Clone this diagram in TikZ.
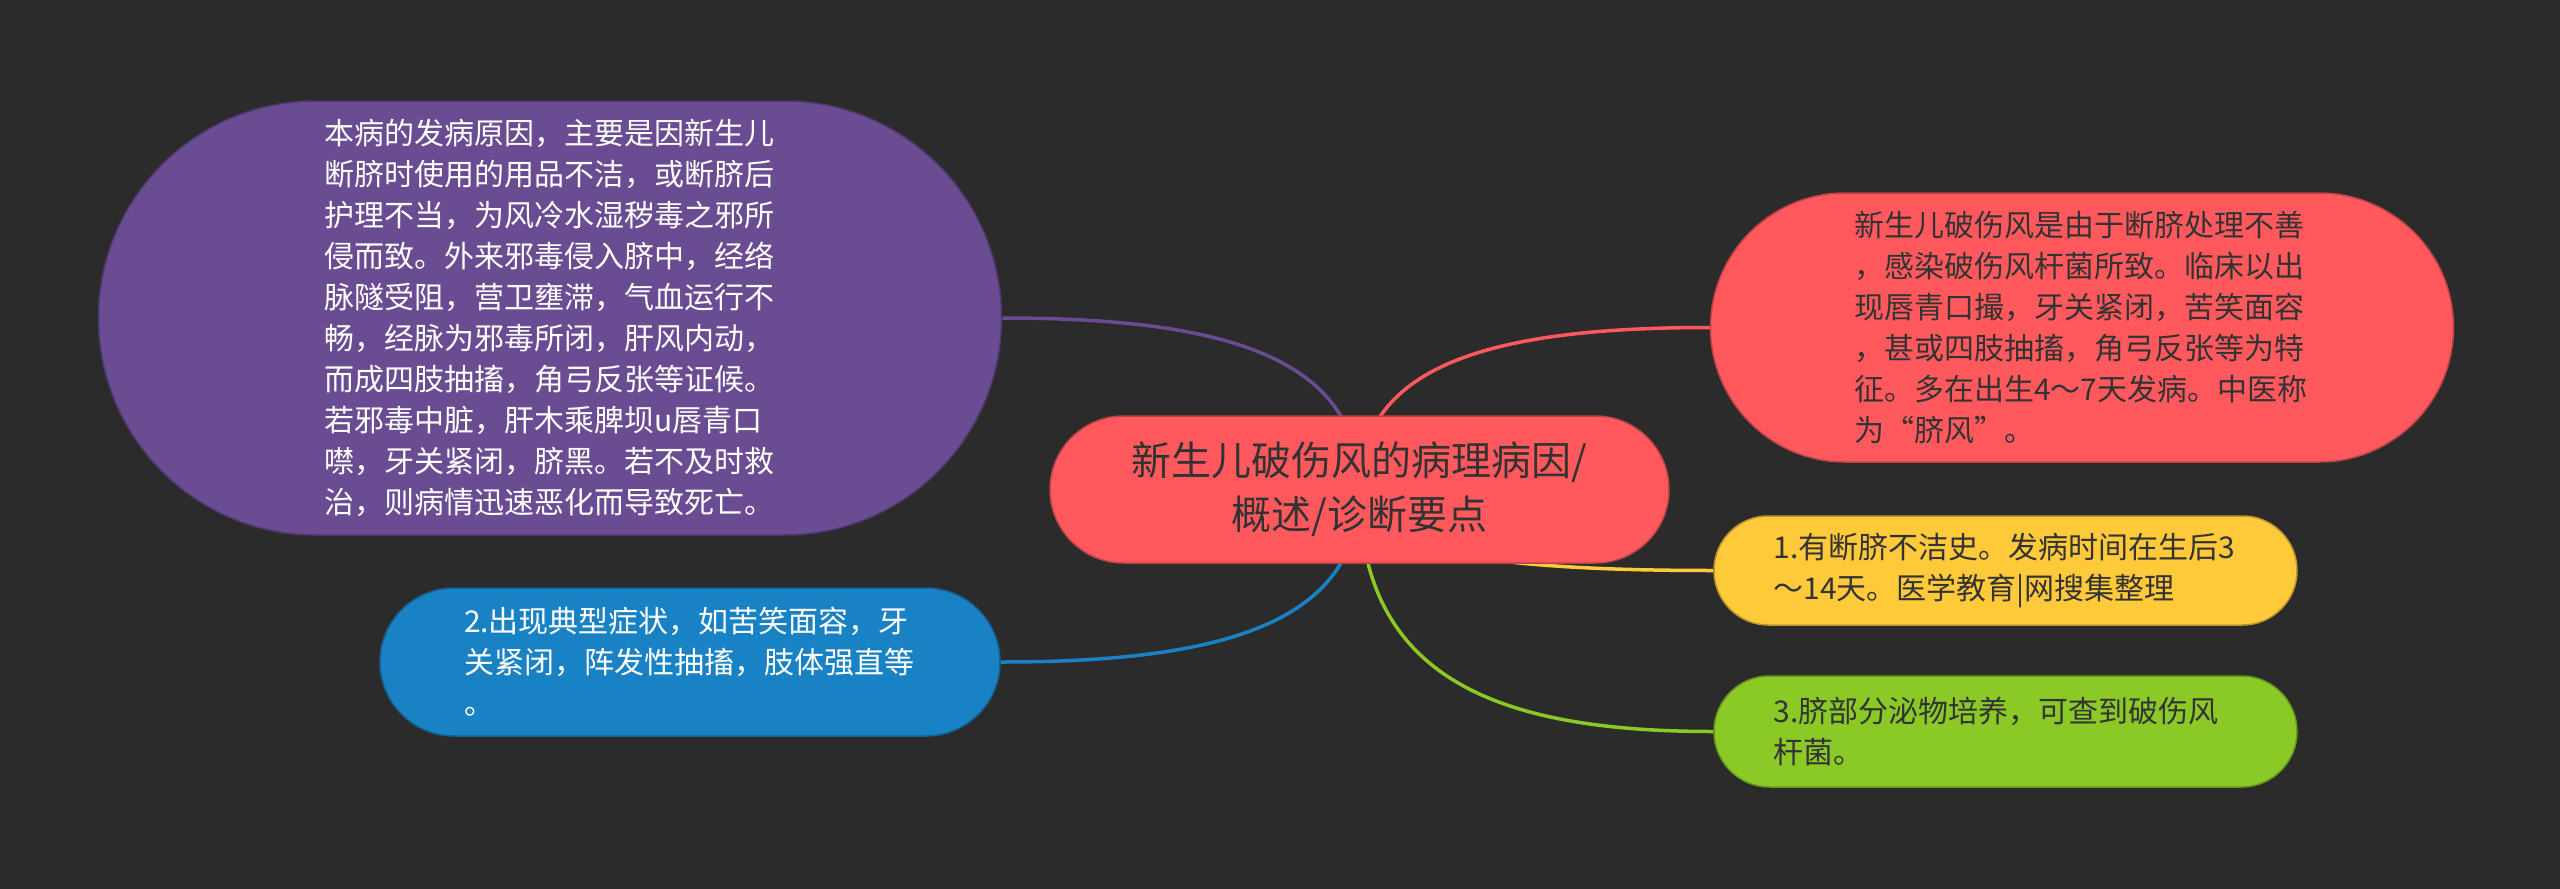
\documentclass[tikz,border=0pt]{standalone}
\usepackage{fontspec}
\setmainfont{Noto Sans CJK SC}
\usetikzlibrary{shapes.misc,calc}
\definecolor{bgc}{HTML}{2B2B2B}
\definecolor{cred}{HTML}{FF595E}
\definecolor{cyel}{HTML}{FFCA3A}
\definecolor{cgrn}{HTML}{8AC926}
\definecolor{cblu}{HTML}{1982C4}
\definecolor{cpur}{HTML}{6A4C93}
\definecolor{tdark}{HTML}{333333}
\pgfdeclarelayer{back}
\pgfdeclarelayer{links}
\pgfsetlayers{back,links,main}
\tikzset{
  topic/.style={rounded rectangle, inner sep=0pt, align=left, draw=#1!75!black, fill=#1, line width=1.5pt},
  bodytext/.style={font=\fontsize{30}{41}\selectfont},
  link/.style={line width=3.5pt, draw=#1},
}
\begin{document}
\begin{tikzpicture}[x=1pt,y=-1pt]
\begin{pgfonlayer}{back}
\fill[bgc] (0,0) rectangle (2560,889);
\end{pgfonlayer}
\useasboundingbox (0,0) rectangle (2560,889);

\node[topic=cred, minimum width=619pt, minimum height=147pt, align=center, text=tdark,
      font=\fontsize{40}{54}\selectfont] (ctr) at (1359.5,489.5)
  {新生儿破伤风的病理病因/\\概述/诊断要点};

\node[topic=cpur, bodytext, text=white, minimum width=903pt, minimum height=434pt, text width=452pt] (cause) at (550,318)
  {本病的发病原因，主要是因新生儿\\断脐时使用的用品不洁，或断脐后\\护理不当，为风冷水湿秽毒之邪所\\侵而致。外来邪毒侵入脐中，经络\\脉隧受阻，营卫壅滞，气血运行不\\畅，经脉为邪毒所闭，肝风内动，\\而成四肢抽搐，角弓反张等证候。\\若邪毒中脏，肝木乘脾坝u唇青口\\噤，牙关紧闭，脐黑。若不及时救\\治，则病情迅速恶化而导致死亡。};

\node[topic=cblu, bodytext, text=white, minimum width=620pt, minimum height=148pt, text width=452pt] (sym) at (690,662)
  {2.出现典型症状，如苦笑面容，牙\\关紧闭，阵发性抽搐，肢体强直等\\。};

\node[topic=cred, bodytext, text=tdark, minimum width=743pt, minimum height=269pt, text width=456pt] (def) at (2082,327.5)
  {新生儿破伤风是由于断脐处理不善\\，感染破伤风杆菌所致。临床以出\\现唇青口撮，牙关紧闭，苦笑面容\\，甚或四肢抽搐，角弓反张等为特\\征。多在出生4～7天发病。中医称\\为“脐风”。};

\node[topic=cyel, bodytext, text=tdark, minimum width=583pt, minimum height=109pt, text width=464pt] (hist) at (2005.5,570.5)
  {1.有断脐不洁史。发病时间在生后3\\～14天。医学教育|网搜集整理};

\node[topic=cgrn, bodytext, text=tdark, minimum width=583pt, minimum height=111pt, text width=464pt] (lab) at (2005.5,731.5)
  {3.脐部分泌物培养，可查到破伤风\\杆菌。};

\begin{pgfonlayer}{links}
\draw[link=cpur] (ctr.center) .. controls ($(ctr.center)!0.79!(ctr.center |- cause.east)$) and ($(ctr.center |- cause.east)!0.4!(cause.east)$) .. (cause.east);
\draw[link=cblu] (ctr.center) .. controls ($(ctr.center)!0.79!(ctr.center |- sym.east)$) and ($(ctr.center |- sym.east)!0.4!(sym.east)$) .. (sym.east);
\draw[link=cred] (ctr.center) .. controls ($(ctr.center)!0.79!(ctr.center |- def.west)$) and ($(ctr.center |- def.west)!0.4!(def.west)$) .. (def.west);
\draw[link=cyel] (ctr.center) .. controls ($(ctr.center)!0.79!(ctr.center |- hist.west)$) and ($(ctr.center |- hist.west)!0.4!(hist.west)$) .. (hist.west);
\draw[link=cgrn] (ctr.center) .. controls ($(ctr.center)!0.79!(ctr.center |- lab.west)$) and ($(ctr.center |- lab.west)!0.4!(lab.west)$) .. (lab.west);
\end{pgfonlayer}
\end{tikzpicture}
\end{document}
